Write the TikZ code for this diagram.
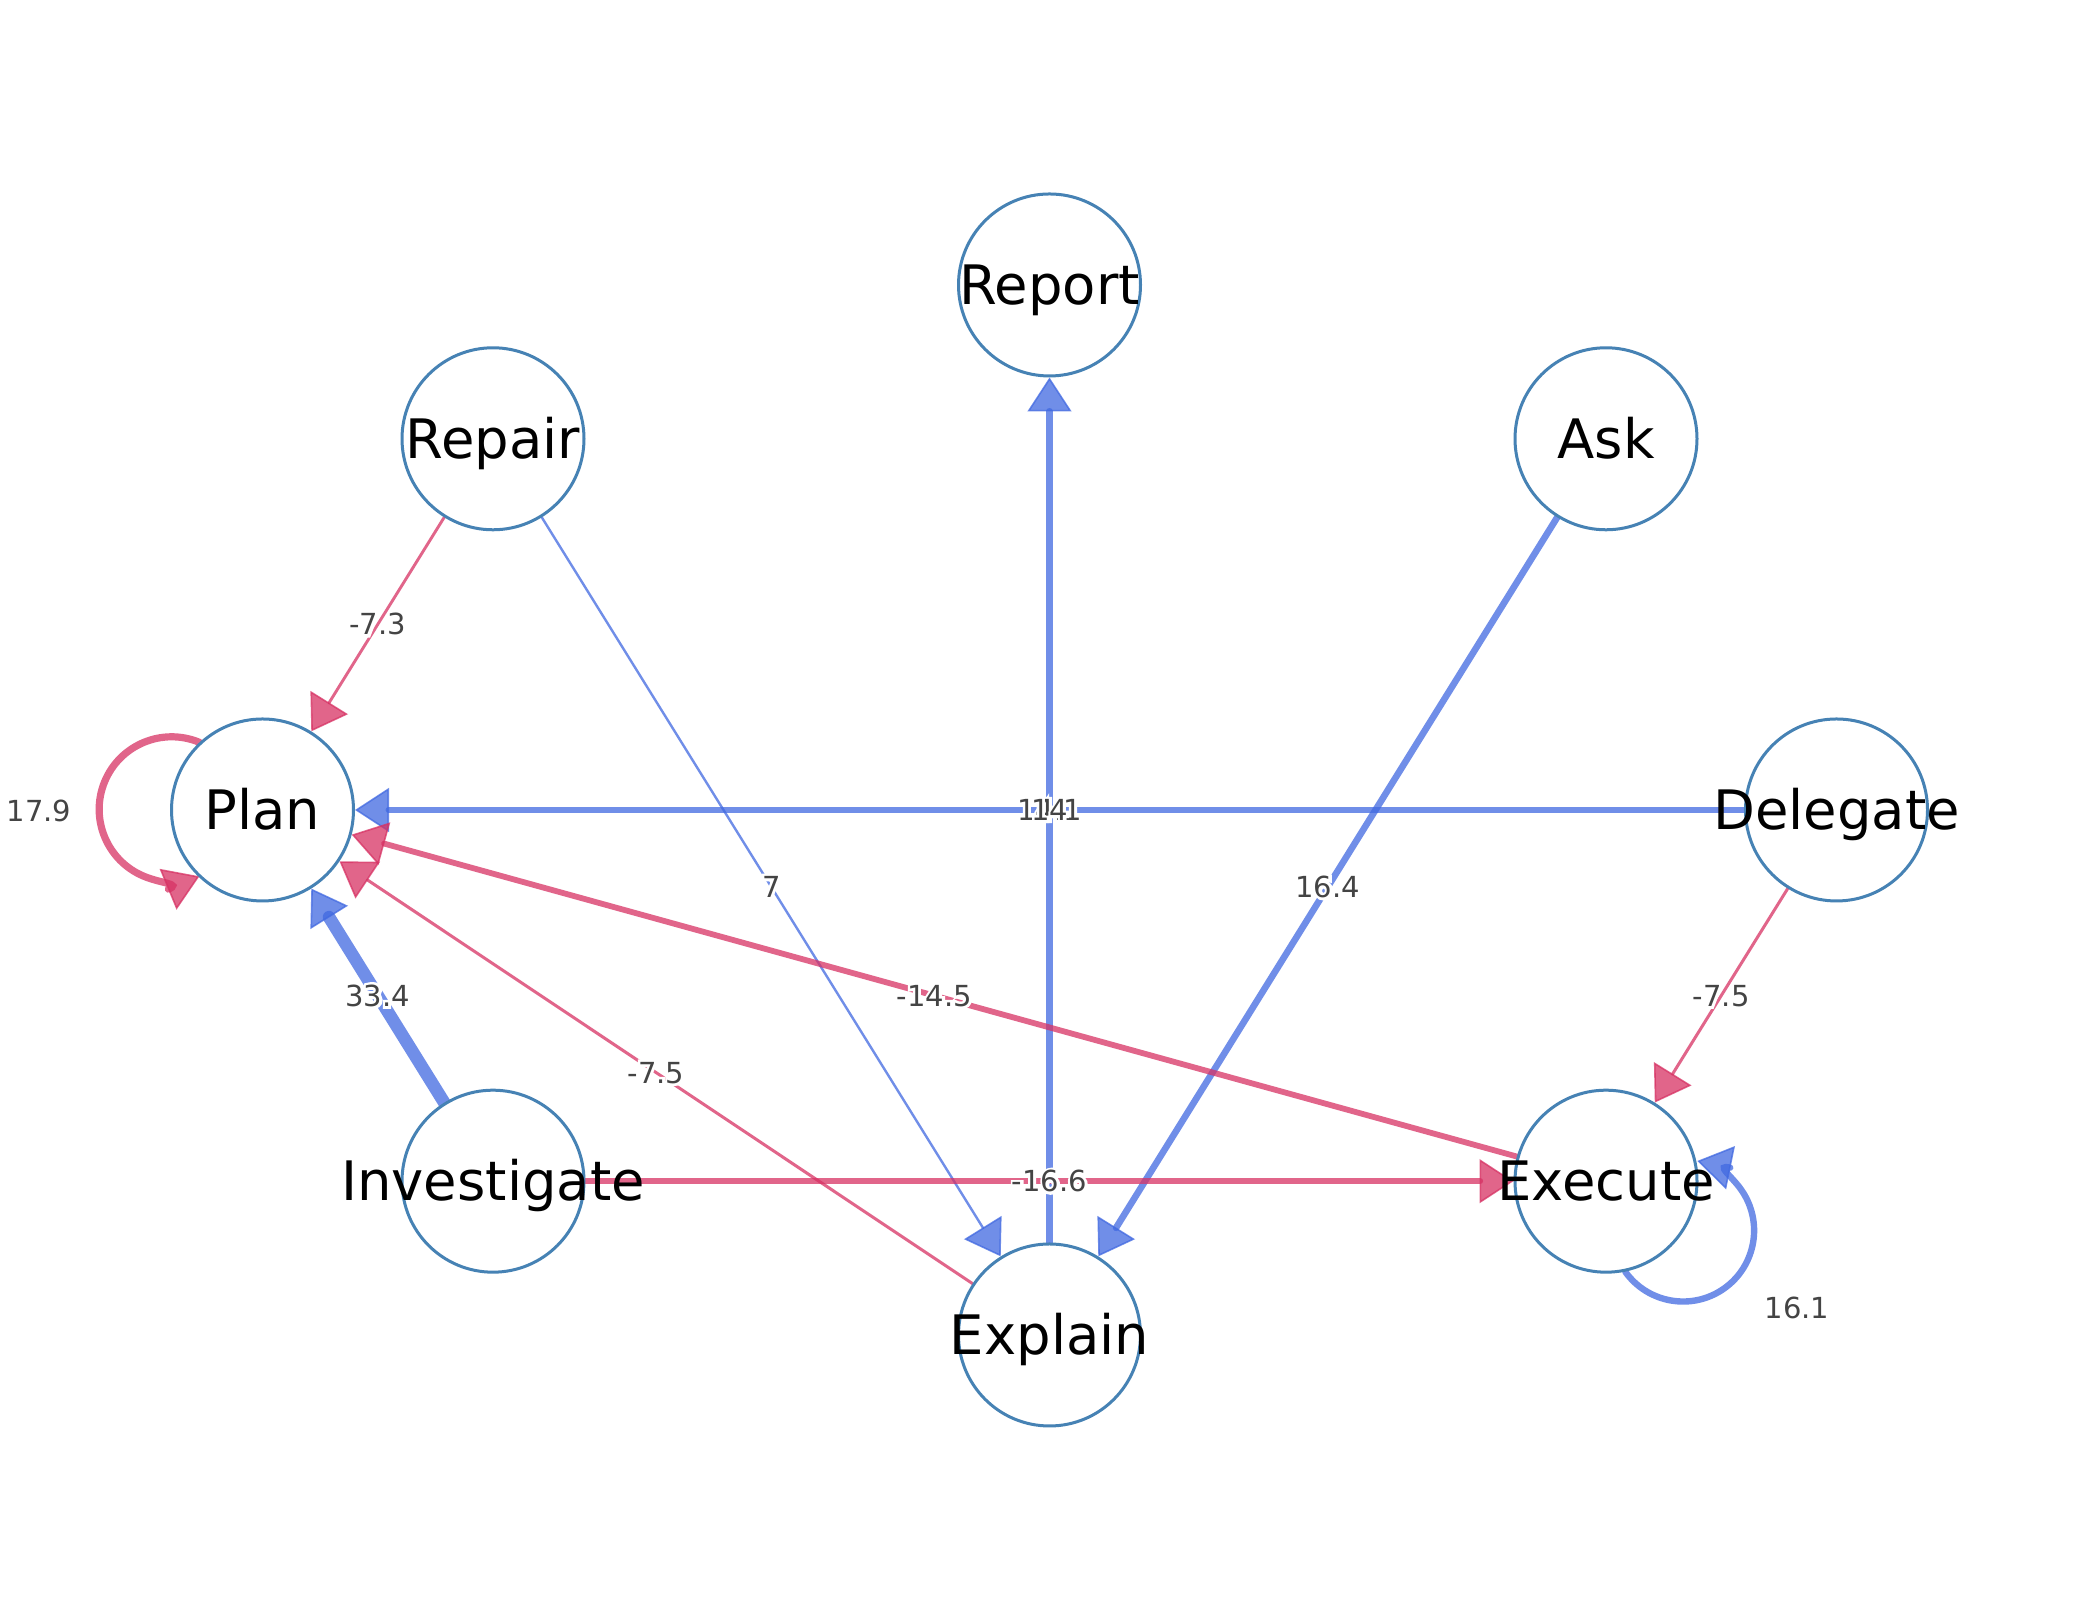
\documentclass[tikz,border=0pt]{standalone}
\usepackage{fontspec}
\setmainfont{DejaVu Sans}
\newfontface\haloface{DejaVu Sans}[FakeBold=18]
\usetikzlibrary{arrows.meta,calc}
\definecolor{nodeline}{RGB}{70,130,180}
\definecolor{posblue}{RGB}{65,105,225}
\definecolor{negpink}{RGB}{215,50,100}
\definecolor{labelgray}{RGB}{68,68,68}
\pgfdeclarelayer{bglayer}
\pgfdeclarelayer{edgelayer}
\pgfsetlayers{bglayer,edgelayer,main}
\newcommand\halotext[1]{\leavevmode\rlap{\color{white}\haloface #1}#1}
\tikzset{
  state/.style={circle, draw=nodeline, line width=1.5pt, fill=white, minimum size=91pt,
    inner sep=0pt, text height=19.8pt, text depth=0pt, font=\fontsize{27.2}{30}\selectfont},
  wlabel/.style={inner sep=0pt, text height=10.6pt, text depth=0pt, text=labelgray,
    font=\fontsize{14.5}{16}\selectfont},
  tiphead/.style={-{Triangle[width=22pt,length=17pt,line width=0.8pt]}},
  posedge/.style={draw=posblue, opacity=0.75, line cap=round, tiphead},
  negedge/.style={draw=negpink, opacity=0.75, line cap=round, tiphead}
}
\begin{document}
\begin{tikzpicture}[x=0.5pt,y=0.5pt]
\useasboundingbox (0,0) rectangle (2100,1620);
\begin{pgfonlayer}{bglayer}
\fill[white] (0,0) rectangle (2100,1620);
\end{pgfonlayer}

% nodes
\node[state] (report) at (1049.5,1335) {\makebox[0pt]{Report}};
\node[state] (ask) at (1606,1181.2) {\makebox[0pt]{Ask}};
\node[state] (delegate) at (1836.5,810) {\makebox[0pt]{Delegate}};
\node[state] (execute) at (1606,438.8) {\makebox[0pt]{Execute}};
\node[state] (explain) at (1049.5,285) {\makebox[0pt]{Explain}};
\node[state] (investigate) at (493,438.8) {\makebox[0pt]{Investigate}};
\node[state] (plan) at (262.5,810) {\makebox[0pt]{Plan}};
\node[state] (repair) at (493,1181.2) {\makebox[0pt]{Repair}};

\begin{pgfonlayer}{edgelayer}
% edges
\draw[negedge, line width=1.45pt] (repair) -- (plan);
\draw[posedge, line width=1.2pt] (repair) -- (explain);
\draw[posedge, line width=3.1pt] (delegate) -- (plan);
\draw[posedge, line width=3.1pt] (explain) -- (report);
\draw[posedge, line width=3.3pt] (ask) -- (explain);
\draw[negedge, line width=3.6pt] (plan.133) arc[start angle=67.5, end angle=292.5, radius=36.25pt];
\draw[posedge, line width=6.3pt] (investigate) -- (plan);
\draw[negedge, line width=1.5pt] (explain) -- (plan);
\draw[negedge, line width=2.9pt] (execute) -- (plan);
\draw[negedge, line width=3.3pt] (investigate) -- (execute);
\draw[negedge, line width=1.5pt] (delegate) -- (execute);
\draw[posedge, line width=3.2pt] (execute.282.3) arc[start angle=-144.6, end angle=78.5, radius=35.5pt];

% edge labels
\node[wlabel] (lrp) at ($(repair)!0.5!(plan)$) {\halotext{-7.3}};
\node[wlabel] (lre) at ($(repair)!0.5!(explain)$) {\halotext{7}};
\node[wlabel] (ldp) at ($(delegate)!0.5!(plan)$) {\halotext{14.1}};
\node[wlabel] (ler) at ($(explain)!0.5!(report)$) {\halotext{14}};
\node[wlabel] (lae) at ($(ask)!0.5!(explain)$) {\halotext{16.4}};
\node[wlabel] (lpp) at (39,809) {\halotext{17.9}};
\node[wlabel] (lip) at ($(investigate)!0.5!(plan)$) {\halotext{33.4}};
\node[wlabel] (lxp) at ($(explain)!0.5!(plan)$) {\halotext{-7.5}};
\node[wlabel] (lep) at ($(execute)!0.5!(plan)$) {\halotext{-14.5}};
\node[wlabel] (lie) at ($(investigate)!0.5!(execute)$) {\halotext{-16.6}};
\node[wlabel] (lde) at ($(delegate)!0.5!(execute)$) {\halotext{-7.5}};
\node[wlabel] (lee) at (1797,312) {\halotext{16.1}};
\end{pgfonlayer}
\end{tikzpicture}
\end{document}
